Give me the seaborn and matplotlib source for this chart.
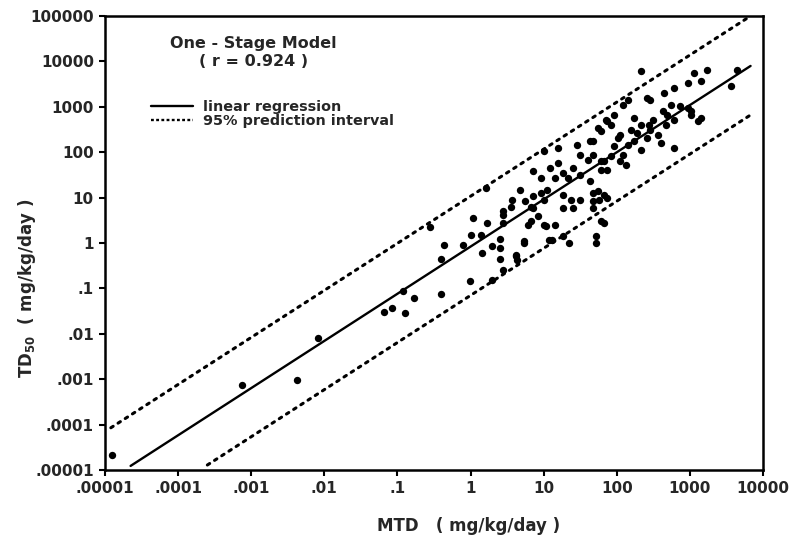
import numpy as np
import pandas as pd
import matplotlib
matplotlib.use("Agg")
import matplotlib.pyplot as plt
import seaborn as sns
from matplotlib.lines import Line2D

# ---- data (log10 values) ----
log_mtd = [
    -4.90, -3.12, -2.37, -2.08, -1.19, -1.07, -0.93, -0.78, -0.89, -0.40,
    -0.37, -0.41, -0.01, 0.30, -0.10, 0.00, 0.14, 0.23, 0.44, 0.40,
    0.30, 0.16, 0.40, 0.62, 0.64, 0.44, 0.44, 0.67, 0.57, 0.56,
    0.75, 0.82, 0.92, 0.78, 0.73, 0.96, 1.03, 1.07, 0.21, -0.55,
    0.86, 1.05, 1.16, 1.09, 1.20, 1.26, 1.33, 1.00, 1.20, 1.46,
    1.68, 1.50, 1.61, 1.78, 1.87, 1.40, 1.50, 1.64, 1.26, 1.37,
    1.26, 1.40, 1.50, 1.68, 1.75, 1.87, 1.68, 1.78, 1.00, 1.16,
    0.82, 0.73, 1.12, 1.26, 1.34, 1.71, 1.71, 0.62, 0.86, 0.96,
    1.00, 0.86, 0.45, 3.24, 3.05, 3.15, 2.98, 2.78, 2.64, 2.46,
    2.15, 2.09, 2.74, 2.87, 3.01, 3.11, 3.01, 2.63, 2.69, 2.78,
    2.67, 2.49, 2.44, 2.23, 2.33, 2.19, 2.28, 2.46, 2.56, 2.42,
    2.60, 1.85, 1.92, 1.74, 2.01, 2.05, 1.96, 2.15, 2.23, 2.33,
    2.09, 2.05, 2.12, 1.92, 1.82, 1.78, 1.68, 1.64, 1.74, 1.82,
    1.68, 2.33, 3.65, 3.56, 2.78, 3.15, 1.82, 1.87, 1.78, 1.96,
    2.42, 2.97, 0.03, 0.40,
]
log_td50 = [
    -4.67, -3.13, -3.02, -2.09, -1.52, -1.43, -1.06, -1.21, -1.54, -0.35,
    -0.04, -1.12, -0.84, -0.81, -0.04, 0.18, 0.18, 0.44, 0.44, 0.09,
    -0.07, -0.22, -0.35, -0.26, -0.37, -0.59, 0.62, 1.17, 0.95, 0.79,
    0.93, 0.79, 0.59, 0.40, 0.04, 1.10, 0.37, 0.07, 1.21, 0.35,
    0.77, 1.17, 1.43, 1.65, 1.76, 1.54, 1.43, 2.03, 2.09, 2.16,
    2.25, 1.94, 1.83, 1.81, 1.61, 1.65, 1.50, 1.37, 1.06, 0.95,
    0.77, 0.77, 0.95, 1.10, 0.95, 0.99, 0.77, 0.48, 0.40, 0.40,
    0.48, 0.00, 0.07, 0.15, 0.00, 0.15, 0.00, -0.29, 1.59, 1.43,
    0.95, 1.04, 0.70, 3.81, 3.74, 3.57, 3.52, 3.41, 3.30, 3.15,
    3.15, 3.04, 3.04, 3.02, 2.91, 2.69, 2.82, 2.91, 2.82, 2.71,
    2.60, 2.71, 2.60, 2.75, 2.60, 2.49, 2.42, 2.49, 2.38, 2.31,
    2.20, 2.71, 2.60, 2.53, 2.31, 2.38, 2.14, 2.16, 2.25, 2.05,
    1.94, 1.81, 1.72, 1.92, 1.81, 1.61, 1.94, 2.25, 1.15, 1.06,
    0.93, 3.79, 3.81, 3.46, 2.09, 2.75, 0.44, 2.69, 2.47, 2.82,
    3.19, 2.97, 0.55, -0.10,
]

# regression line and 95% prediction interval (log10 end points)
reg_lx = [-4.65, 3.83]
reg_ly = [-4.91, 3.90]
upper_lx = [-4.92, 3.83]
upper_ly = [-4.07, 5.00]
lower_lx = [-3.60, 3.83]
lower_ly = [-4.89, 2.82]

x_ticks = [1e-5, 1e-4, 1e-3, 1e-2, 1e-1, 1, 10, 100, 1000, 10000]
x_ticklabels = [".00001", ".0001", ".001", ".01", ".1", "1", "10", "100", "1000", "10000"]
y_ticks = [1e-5, 1e-4, 1e-3, 1e-2, 1e-1, 1, 10, 100, 1000, 10000, 100000]
y_ticklabels = [".00001", ".0001", ".001", ".01", ".1", "1", "10", "100", "1000", "10000", "100000"]

title_lines = ["One - Stage Model", "( r = 0.924 )"]
legend_labels = ["linear regression", "95% prediction interval"]

# ---- plotting ----
sns.set_style("white")
plt.rcParams["font.family"] = ["DejaVu Sans"]

fig = plt.figure(figsize=(7.89, 5.42), dpi=100)
ax = fig.add_axes([105 / 789, 72 / 542, 658 / 789, 454 / 542])

pts = pd.DataFrame({"MTD": np.power(10.0, log_mtd), "TD50": np.power(10.0, log_td50)})
sns.scatterplot(data=pts, x="MTD", y="TD50", ax=ax, color="black", s=28,
                edgecolor="black", linewidth=0, zorder=3)

reg = pd.DataFrame({"x": np.power(10.0, reg_lx), "y": np.power(10.0, reg_ly)})
up = pd.DataFrame({"x": np.power(10.0, upper_lx), "y": np.power(10.0, upper_ly)})
lo = pd.DataFrame({"x": np.power(10.0, lower_lx), "y": np.power(10.0, lower_ly)})
sns.lineplot(data=reg, x="x", y="y", ax=ax, color="black", lw=1.7, estimator=None, sort=False)
for d in (up, lo):
    sns.lineplot(data=d, x="x", y="y", ax=ax, color="black", lw=2.2, estimator=None,
                 sort=False, linestyle=(0, (0.9, 1.9)), dash_capstyle="round")

ax.set_xscale("log")
ax.set_yscale("log")
ax.set_xlim(1e-5, 1e4)
ax.set_ylim(1e-5, 1e5)
ax.set_xticks(x_ticks)
ax.set_xticklabels(x_ticklabels)
ax.set_yticks(y_ticks)
ax.set_yticklabels(y_ticklabels)
ax.minorticks_off()
ax.tick_params(axis="both", direction="out", length=4, width=1.5, color="black",
               labelsize=11, pad=4, top=False, right=False, bottom=True, left=True)
for lab in ax.get_xticklabels() + ax.get_yticklabels():
    lab.set_fontweight("bold")
for sp in ax.spines.values():
    sp.set_color("black")
    sp.set_linewidth(1.8)

ax.set_xlabel("MTD   ( mg/kg/day )", fontsize=12, fontweight="bold")
ax.xaxis.set_label_coords(0.552, -0.103)
ax.set_ylabel(r"TD$_{\mathbf{50}}$  ( mg/kg/day )", fontsize=12, fontweight="bold")
ax.yaxis.set_label_coords(-0.102, 0.40)

ax.text(0.226, 0.940, title_lines[0], transform=ax.transAxes, ha="center", va="center",
        fontsize=11.5, fontweight="bold")
ax.text(0.226, 0.899, title_lines[1], transform=ax.transAxes, ha="center", va="center",
        fontsize=11.5, fontweight="bold")

handles = [Line2D([], [], color="black", lw=1.7),
           Line2D([], [], color="black", lw=1.7, linestyle=(0, (1.2, 1.0)))]
leg = ax.legend(handles, legend_labels, loc="upper left", bbox_to_anchor=(0.055, 0.838),
                frameon=False, handlelength=2.9, handletextpad=0.65, labelspacing=0.05,
                borderpad=0.2, prop={"size": 10.4, "weight": "bold"})

fig.savefig("out.png", dpi=100)
